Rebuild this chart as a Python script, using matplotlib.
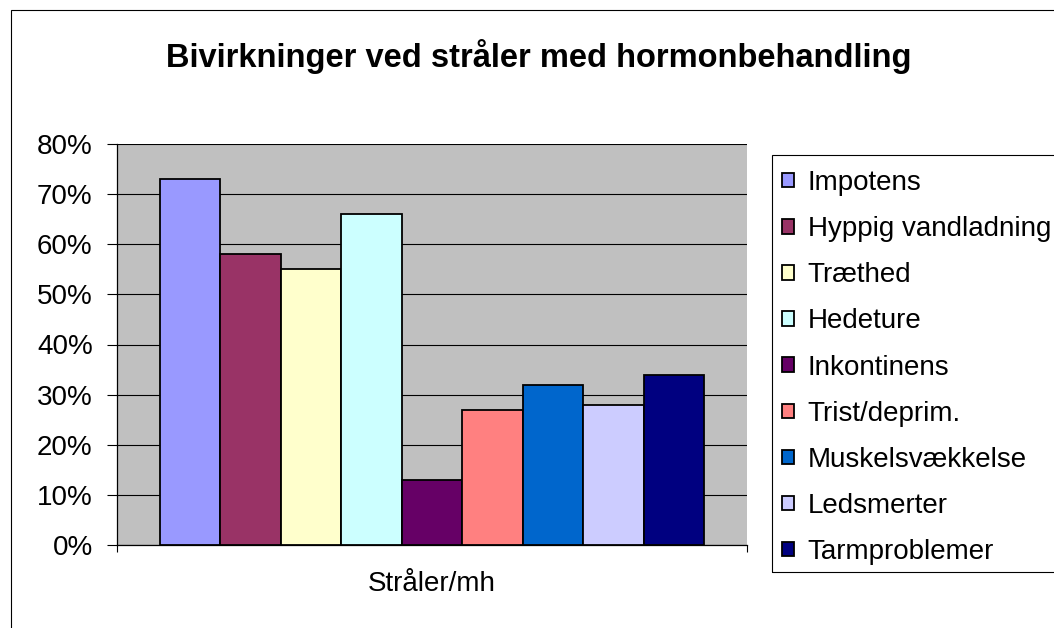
import matplotlib.pyplot as plt
from matplotlib.patches import Rectangle
from matplotlib.ticker import PercentFormatter

plt.rcParams['font.family'] = ['Liberation Sans', 'DejaVu Sans']

# Data
group = 'Stråler/mh'
labels = ['Impotens', 'Hyppig vandladning', 'Træthed', 'Hedeture', 'Inkontinens',
          'Trist/deprim.', 'Muskelsvækkelse', 'Ledsmerter', 'Tarmproblemer']
values = [0.73, 0.58, 0.55, 0.66, 0.13, 0.27, 0.32, 0.28, 0.34]
colors = ['#9999FF', '#993366', '#FFFFCC', '#CCFFFF', '#660066',
          '#FF8080', '#0066CC', '#CCCCFF', '#000080']

W, H = 1054, 628
fig = plt.figure(figsize=(W / 100, H / 100), dpi=100)

# outer chart border (extends past right/bottom of image)
fig.patches.append(Rectangle((11 / W, -0.2), 1.2, 1.2 - 10 / H,
                             transform=fig.transFigure, fill=False,
                             edgecolor='black', linewidth=0.8))

ax = fig.add_axes([117 / W, (H - 545) / H, 630 / W, 401 / H])
ax.set_facecolor('#C0C0C0')

n = len(values)
group_w = 0.864
bw = group_w / n
handles = []
for i, (lab, v, c) in enumerate(zip(labels, values, colors)):
    x = -group_w / 2 + bw * (i + 0.5)
    b = ax.bar(x, v, width=bw, color=c, edgecolor='black', linewidth=1.3,
               label=lab, zorder=3)
    handles.append(b)

ax.set_xlim(-0.5, 0.5)
ax.set_ylim(0, 0.8)
ax.set_yticks([i / 10 for i in range(9)])
ax.yaxis.set_major_formatter(PercentFormatter(1.0, decimals=0))
ax.grid(axis='y', color='black', linewidth=0.8, zorder=1)
ax.set_axisbelow(True)

ax.set_xticks([0])
ax.set_xticklabels([group])
ax.set_xticks([-0.5, 0.5], minor=True)
ax.tick_params(axis='x', which='major', length=0, pad=19, labelsize=20)
ax.tick_params(axis='x', which='minor', length=5, width=0.8, direction='out')
ax.tick_params(axis='y', length=7, width=0.8, direction='out', pad=10.5,
               labelsize=20)

for s in ['top', 'right']:
    ax.spines[s].set_visible(False)
for s in ['left', 'bottom']:
    ax.spines[s].set_color('black')
    ax.spines[s].set_linewidth(0.9)

fig.text(539 / W, 1 - 57 / H, 'Bivirkninger ved stråler med hormonbehandling',
         ha='center', va='center', fontsize=23.5, fontweight='bold')

# legend frame drawn separately, it runs off the right edge
fig.patches.append(Rectangle((772 / W, (H - 572) / H), 0.4, (572 - 155) / H,
                             transform=fig.transFigure, fill=False,
                             edgecolor='black', linewidth=0.8))
fig.legend(handles=handles, labels=labels, loc='upper left',
           bbox_to_anchor=(782 / W, 1 - 170 / H), frameon=False,
           fontsize=20, handlelength=0.43, handleheight=0.43,
           handletextpad=0.5, labelspacing=0.725, borderpad=0, borderaxespad=0)

fig.savefig('out.png', dpi=100)
